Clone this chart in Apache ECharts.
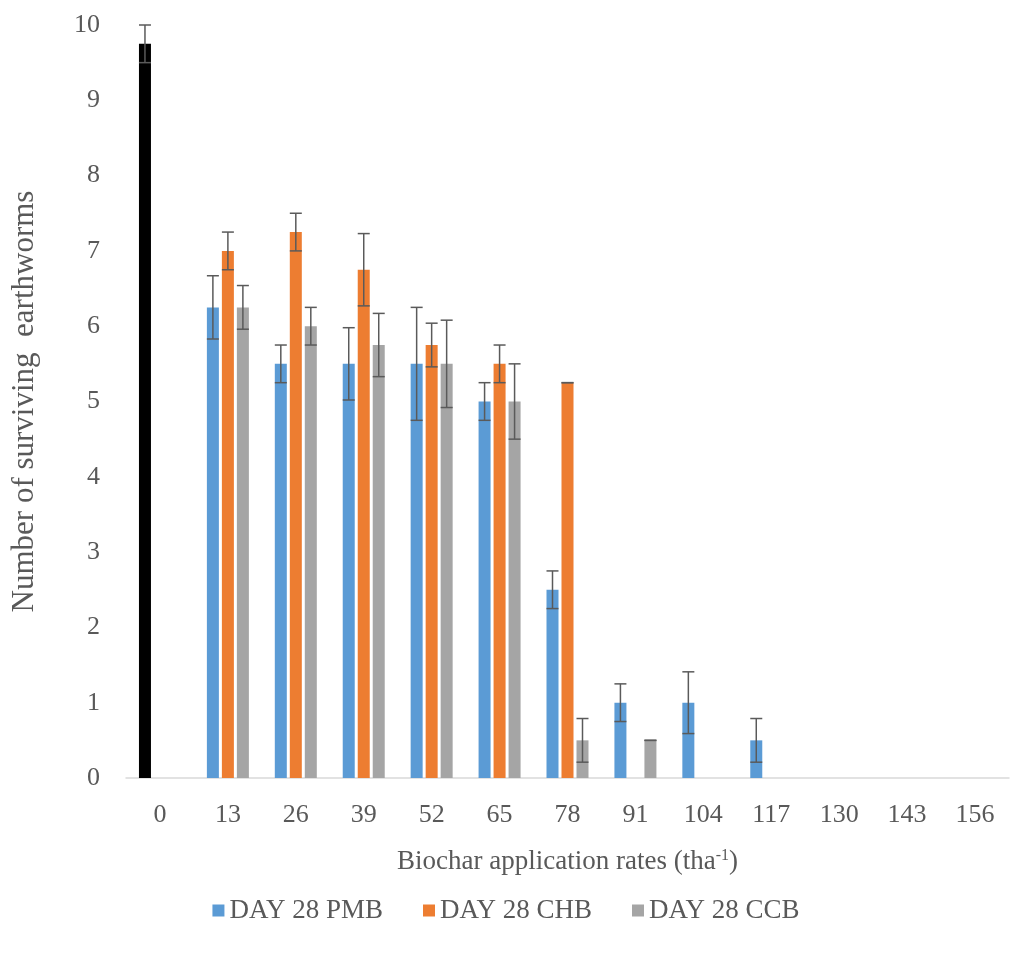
<!DOCTYPE html>
<html>
<head>
<meta charset="utf-8">
<script src="https://cdn.jsdelivr.net/npm/echarts@6/dist/echarts.min.js"></script>
<style>html,body{margin:0;padding:0;background:#fff;}#c{width:1012px;height:953px;}</style>
</head>
<body>
<div id="c"></div>
<script>
const categories = ['0','13','26','39','52','65','78','91','104','117','130','143','156'];
const seriesNames = ['DAY 28 PMB', 'DAY 28 CHB', 'DAY 28 CCB'];
const pmb    = [9.75, 6.25, 5.5, 5.5, 5.5, 5.0, 2.5, 1.0, 1.0, 0.5, 0, 0, 0];
const pmbErr = [0.25, 0.42, 0.25, 0.48, 0.75, 0.25, 0.25, 0.25, 0.41, 0.29, null, null, null];
const chb    = [0, 7.0, 7.25, 6.75, 5.75, 5.5, 5.25, 0, 0, 0, 0, 0, 0];
const chbErr = [null, 0.25, 0.25, 0.48, 0.29, 0.25, 0, null, null, null, null, null, null];
const ccb    = [0, 6.25, 6.0, 5.75, 5.5, 5.0, 0.5, 0.5, 0, 0, 0, 0, 0];
const ccbErr = [null, 0.29, 0.25, 0.42, 0.58, 0.5, 0.29, 0, null, null, null, null, null];
const yTicks = [0,1,2,3,4,5,6,7,8,9,10];

const colors = ['#5b9bd5', '#ed7d31', '#a5a5a5'];
const controlColor = '#000000';
const BAR_W = 12;
const GAP = 0.25;
const FONT = 'Liberation Serif';
const TXT = '#595959';

const values = [pmb, chb, ccb];
const errs = [pmbErr, chbErr, ccbErr];

function errRender(k) {
  return function (params, api) {
    const i = api.value(0), v = api.value(1), e = api.value(2);
    const off = (k - 1) * BAR_W * (1 + GAP);
    const t = api.coord([i, v + e]);
    const b = api.coord([i, v - e]);
    const x = t[0] + off;
    const half = BAR_W / 2;
    const st = { stroke: '#5a5a5a', lineWidth: 1.5 };
    return {
      type: 'group',
      children: [
        { type: 'line', shape: { x1: x, y1: t[1], x2: x, y2: b[1] }, style: st },
        { type: 'line', shape: { x1: x - half, y1: t[1], x2: x + half, y2: t[1] }, style: st },
        { type: 'line', shape: { x1: x - half, y1: b[1], x2: x + half, y2: b[1] }, style: st }
      ]
    };
  };
}

const barSeries = values.map((arr, k) => ({
  name: seriesNames[k],
  type: 'bar',
  barWidth: BAR_W,
  barGap: (GAP * 100) + '%',
  itemStyle: { color: colors[k] },
  data: arr.map((v, i) => (k === 0 && i === 0) ? { value: v, itemStyle: { color: controlColor } } : v)
}));

const errSeries = errs.map((arr, k) => ({
  name: seriesNames[k] + ' err',
  type: 'custom',
  z: 5,
  silent: true,
  encode: { x: 0, y: 1 },
  renderItem: errRender(k),
  data: arr.map((e, i) => e === null ? null : [i, values[k][i], e]).filter(d => d !== null)
}));

const chart = echarts.init(document.getElementById('c'));
chart.setOption({
  animation: false,
  backgroundColor: '#fff',
  textStyle: { fontFamily: FONT },
  grid: { left: 126, right: 3, top: 25, bottom: 175 },
  legend: {
    data: seriesNames,
    bottom: 24,
    left: 'center',
    icon: 'rect',
    itemWidth: 12,
    itemHeight: 12,
    itemGap: 40,
    textStyle: { fontFamily: FONT, fontSize: 27, color: TXT }
  },
  xAxis: {
    type: 'category',
    data: categories,
    axisLine: { lineStyle: { color: '#d9d9d9', width: 1.5 } },
    axisTick: { show: false },
    axisLabel: { fontFamily: FONT, fontSize: 26, color: TXT, margin: 24 },
    name: '{n|Biochar application rates (tha}{s|-1}{n|)}',
    nameLocation: 'middle',
    nameGap: 70,
    nameTextStyle: {
      rich: {
        n: { fontFamily: FONT, fontSize: 27, color: TXT },
        s: { fontFamily: FONT, fontSize: 16, color: TXT, verticalAlign: 'top', padding: [0, 0, 12, 0] }
      }
    }
  },
  yAxis: {
    type: 'value',
    min: yTicks[0],
    max: yTicks[yTicks.length - 1],
    interval: 1,
    splitLine: { show: false },
    axisLine: { show: false },
    axisTick: { show: false },
    axisLabel: { fontFamily: FONT, fontSize: 26, color: TXT, margin: 26 },
    name: 'Number of surviving  earthworms',
    nameLocation: 'middle',
    nameGap: 86,
    nameTextStyle: { fontFamily: FONT, fontSize: 31, color: TXT }
  },
  series: barSeries.concat(errSeries)
});
</script>
</body>
</html>
